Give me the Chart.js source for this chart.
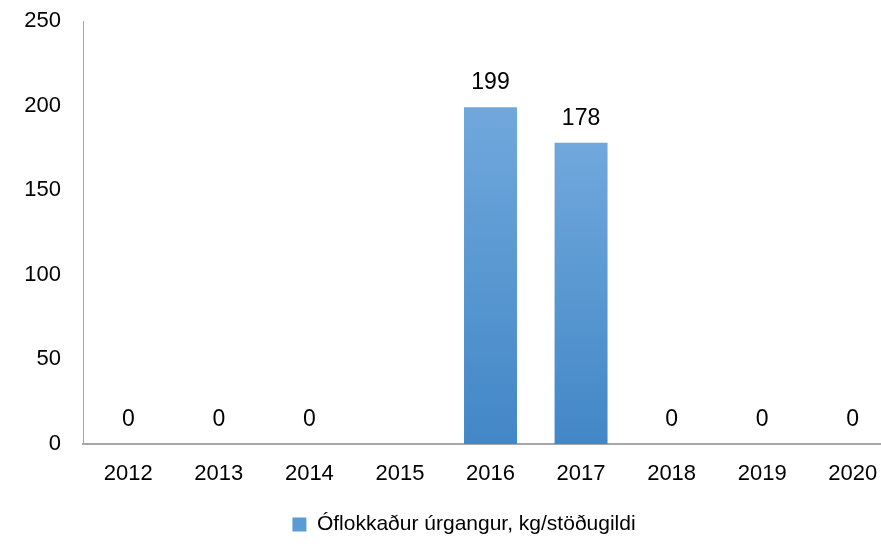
<!DOCTYPE html>
<html>
<head>
<meta charset="utf-8">
<script src="https://cdn.jsdelivr.net/npm/chart.js@4.4.1/dist/chart.umd.min.js"></script>
<style>
  html, body { margin: 0; padding: 0; background: #fff; }
  #wrap { width: 881px; height: 546px; overflow: hidden; }
</style>
</head>
<body>
<div id="wrap"><canvas id="chart" width="898" height="546"></canvas></div>
<script>
const years = ['2012', '2013', '2014', '2015', '2016', '2017', '2018', '2019', '2020'];
const waste = [0, 0, 0, null, 199, 178, 0, 0, 0];
const yTicks = [0, 50, 100, 150, 200, 250];
const seriesName = 'Óflokkaður úrgangur, kg/stöðugildi';

const FONT = "'Liberation Sans Narrow', 'Arial Narrow', 'Liberation Sans', Arial, sans-serif";

// values written above the bars
const barLabels = {
  id: 'barLabels',
  afterDatasetsDraw(chart) {
    const ctx = chart.ctx;
    const meta = chart.getDatasetMeta(0);
    ctx.save();
    ctx.font = '23px ' + FONT;
    ctx.fillStyle = '#000';
    ctx.textAlign = 'center';
    ctx.textBaseline = 'alphabetic';
    meta.data.forEach((bar, i) => {
      const v = waste[i];
      if (v === null) return;
      ctx.fillText(String(v), bar.x, bar.y - 18);
    });
    ctx.restore();
  }
};

// legend sits a bit right of the canvas centre in the original
const legendShift = {
  id: 'legendShift',
  afterLayout(chart) {
    chart.legend.left += 15;
    chart.legend.right += 15;
  }
};

function barFill(context) {
  const chart = context.chart;
  const area = chart.chartArea;
  const v = context.parsed ? context.parsed.y : null;
  if (!area || v == null || !isFinite(v)) return '#5b9bd5';
  const top = chart.scales.y.getPixelForValue(v);
  if (!isFinite(top) || top >= area.bottom) return '#5b9bd5';
  const g = chart.ctx.createLinearGradient(0, top, 0, area.bottom);
  g.addColorStop(0, '#70a8dc');
  g.addColorStop(1, '#4287c7');
  return g;
}

const myChart = document.getElementById('chart').getContext('2d');

const config = {
  type: 'bar',
  data: {
    labels: years,
    datasets: [{
      label: seriesName,
      data: waste,
      backgroundColor: barFill,
      borderWidth: 0,
      categoryPercentage: 1,
      barPercentage: 0.585
    }]
  },
  options: {
    responsive: false,
    animation: false,
    layout: { padding: { top: 21, right: 0, bottom: 1, left: 0 } },
    plugins: {
      tooltip: { enabled: false },
      legend: {
        position: 'bottom',
        labels: {
          color: '#000',
          font: { family: FONT, size: 21 },
          boxWidth: 14,
          boxHeight: 14,
          padding: 6,
          generateLabels: (chart) => [{
            text: seriesName,
            fillStyle: '#5b9bd5',
            strokeStyle: '#5b9bd5',
            lineWidth: 0,
            datasetIndex: 0
          }]
        }
      }
    },
    scales: {
      x: {
        grid: { display: false, drawTicks: false },
        border: { display: true, color: '#a6a6a6', width: 2 },
        ticks: { color: '#000', font: { family: FONT, size: 22 }, padding: 17, maxRotation: 0 },
        afterFit: (scale) => {
          scale.height = 64;
          scale.paddingLeft = 0;
          scale.paddingRight = 0;
        }
      },
      y: {
        min: 0,
        max: 250,
        grid: { display: false, drawTicks: false },
        border: { display: true, color: '#a6a6a6', width: 1 },
        afterBuildTicks: (scale) => { scale.ticks = yTicks.map(v => ({ value: v })); },
        ticks: { color: '#000', font: { family: FONT, size: 22 }, padding: 22 },
        afterFit: (scale) => {
          scale.width = 83;
          scale.paddingTop = 0;
          scale.paddingBottom = 0;
        }
      }
    }
  },
  plugins: [barLabels, legendShift]
};

const lineChart = new Chart(myChart, config);
</script>
</body>
</html>
